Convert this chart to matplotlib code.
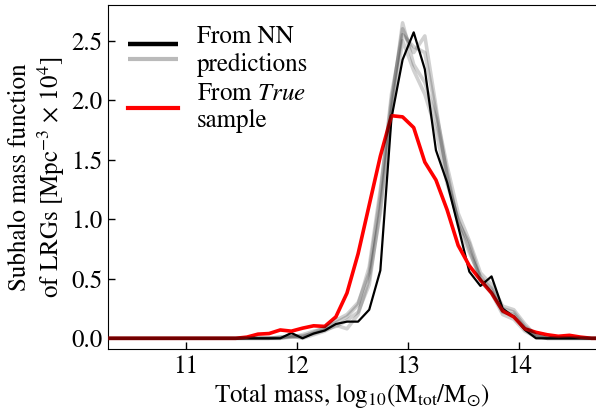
import numpy as np
import matplotlib
matplotlib.use('Agg')
import matplotlib.pyplot as plt
from matplotlib.lines import Line2D
from matplotlib.legend_handler import HandlerBase

plt.rcParams['font.family'] = 'STIXGeneral'
plt.rcParams['mathtext.fontset'] = 'stix'
plt.rcParams['font.size'] = 18

# bin centres in log10(Mtot/Msun)
mass_bins = np.round(np.arange(10.25, 14.8, 0.1), 2)

z12 = [0.0] * 12  # empty bins 10.25 .. 11.35

true_smf = z12 + [0.0, 0.01, 0.035, 0.04, 0.07, 0.06, 0.085, 0.105, 0.10, 0.18, 0.38, 0.71,
                  1.12, 1.53, 1.87, 1.86, 1.77, 1.48, 1.33, 1.08, 0.78, 0.61, 0.49, 0.38,
                  0.23, 0.18, 0.08, 0.05, 0.03, 0.017, 0.025, 0.01, 0.0, 0.0]

nn_smf = z12 + [0.0, 0.0, 0.0, 0.0, 0.0, 0.045, 0.0, 0.04, 0.065, 0.12, 0.14, 0.14,
                0.24, 0.57, 1.85, 2.34, 2.57, 2.26, 1.58, 1.31, 0.94, 0.56, 0.44, 0.52,
                0.25, 0.18, 0.07, 0.0, 0.0, 0.0, 0.0, 0.0, 0.0, 0.0]

nn_runs = [
    z12 + [0.0, 0.0, 0.0, 0.0, 0.01, 0.02, 0.02, 0.04, 0.07, 0.1, 0.15, 0.22, 0.45, 1.1,
           1.95, 2.65, 2.3, 2.15, 1.85, 1.4, 0.95, 0.72, 0.52, 0.4, 0.22, 0.2, 0.08, 0.02,
           0.0, 0.0, 0.0, 0.0, 0.0, 0.0],
    z12 + [0.0, 0.0, 0.0, 0.0, 0.0, 0.01, 0.01, 0.05, 0.09, 0.13, 0.18, 0.28, 0.6, 1.25,
           2.0, 2.6, 2.4, 2.54, 1.95, 1.35, 0.98, 0.8, 0.5, 0.42, 0.25, 0.22, 0.1, 0.03,
           0.0, 0.0, 0.0, 0.0, 0.0, 0.0],
    z12 + [0.0, 0.0, 0.0, 0.0, 0.0, 0.02, 0.0, 0.03, 0.06, 0.11, 0.08, 0.2, 0.5, 1.05,
           1.9, 2.5, 2.25, 2.05, 1.75, 1.3, 1.0, 0.75, 0.48, 0.38, 0.2, 0.16, 0.06, 0.01,
           0.0, 0.0, 0.0, 0.0, 0.0, 0.0],
    z12 + [0.0, 0.0, 0.0, 0.0, 0.01, 0.01, 0.03, 0.06, 0.08, 0.15, 0.2, 0.3, 0.55, 1.2,
           2.05, 2.55, 2.45, 2.4, 1.9, 1.45, 1.05, 0.82, 0.55, 0.45, 0.27, 0.24, 0.12, 0.02,
           0.0, 0.0, 0.0, 0.0, 0.0, 0.0],
]


class HandlerPair(HandlerBase):
    # two lines stacked in one legend entry
    def create_artists(self, legend, orig_handle, xdescent, ydescent, width, height, fontsize, trans):
        top, bot = orig_handle
        yc = (height - ydescent) / 2
        xs = [-xdescent, width - xdescent]
        l1 = Line2D(xs, [yc + 0.28 * fontsize] * 2, color=top.get_color(), lw=top.get_linewidth(),
                    solid_capstyle='butt', transform=trans)
        l2 = Line2D(xs, [yc - 0.32 * fontsize] * 2, color=bot.get_color(), lw=bot.get_linewidth(),
                    alpha=bot.get_alpha(), solid_capstyle='butt', transform=trans)
        return [l1, l2]


fig = plt.figure(figsize=(5.96, 4.15), dpi=100)
ax = fig.add_axes([0.181, 0.159, 0.821, 0.829])

ax.plot(mass_bins, nn_smf, color='k', lw=1.6, zorder=2)
ax.plot(mass_bins, true_smf, color='red', lw=2.6, zorder=3)
for run in nn_runs:
    ax.plot(mass_bins, run, color='k', lw=2.6, alpha=0.18, zorder=4)

ax.set_xlim(10.3, 14.7)
ax.set_ylim(-0.09, 2.8)
ax.set_xticks([11, 12, 13, 14])
ax.set_yticks([0.0, 0.5, 1.0, 1.5, 2.0, 2.5])
ax.set_yticklabels(['0.0', '0.5', '1.0', '1.5', '2.0', '2.5'])
ax.tick_params(direction='in', length=5, width=1, top=False, right=False, pad=4)

ax.set_xlabel(r'Total mass, log$_{10}$(M$_{\rm tot}$/M$_{\odot}$)', labelpad=2)
ax.set_ylabel('Subhalo mass function\n' + r'of LRGs [Mpc$^{-3}$ $\times$ 10$^4$]',
              labelpad=3, linespacing=1.15)

h_black = Line2D([], [], color='k', lw=3.2)
h_gray = Line2D([], [], color='k', lw=3.0, alpha=0.27)
h_red = Line2D([], [], color='red', lw=3.0)
ax.legend([(h_black, h_gray), h_red],
          ['From NN\npredictions', 'From $\\it{True}$\nsample'],
          handler_map={tuple: HandlerPair()},
          loc='upper left', frameon=False, handlelength=2.0, handletextpad=0.75,
          labelspacing=0.2, borderaxespad=0.4)

fig.savefig('out.png', dpi=100)
